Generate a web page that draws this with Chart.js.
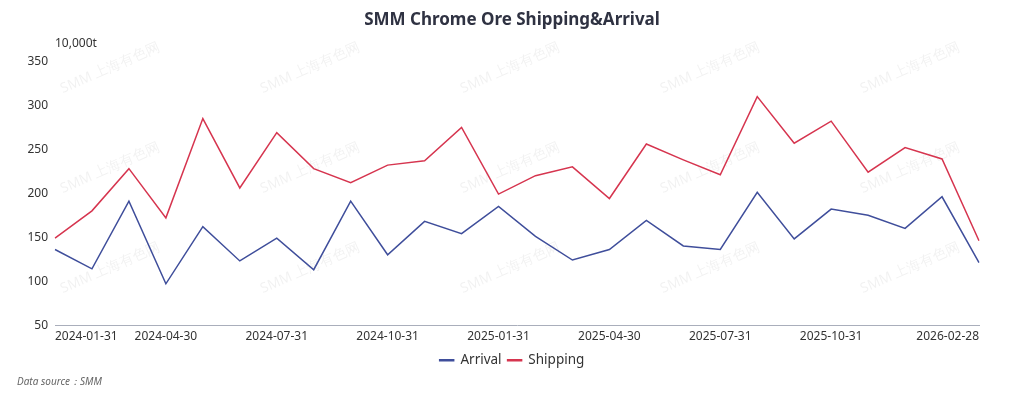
<!DOCTYPE html>
<html>
<head>
<meta charset="utf-8">
<script src="https://cdn.jsdelivr.net/npm/chart.js@4"></script>
<style>
  html, body { margin: 0; padding: 0; background: #fff; }
  #wrap { width: 1024px; height: 399px; }
</style>
</head>
<body>
<div id="wrap"><canvas id="myChart" width="1024" height="399"></canvas></div>
<script>
// monthly data
var categories = ['2024-01-31','2024-02-29','2024-03-31','2024-04-30','2024-05-31','2024-06-30',
  '2024-07-31','2024-08-31','2024-09-30','2024-10-31','2024-11-30','2024-12-31',
  '2025-01-31','2025-02-28','2025-03-31','2025-04-30','2025-05-31','2025-06-30',
  '2025-07-31','2025-08-31','2025-09-30','2025-10-31','2025-11-30','2025-12-31',
  '2026-01-31','2026-02-28'];
var arrival = [136,114,191,97,162,123,149,113,191,130,168,154,185,151,124,136,169,140,136,201,148,182,175,160,196,121];
var shipping = [149,180,228,172,285,206,269,228,212,232,237,275,199,220,230,194,256,238,221,310,257,282,224,252,239,146];
var tickLabels = ['2024-01-31','2024-04-30','2024-07-31','2024-10-31','2025-01-31','2025-04-30','2025-07-31','2025-10-31','2026-02-28'];
var yTicks = [50,100,150,200,250,300,350];

var FONT = "'Noto Sans', 'Open Sans', sans-serif";

// faint watermark + unit label + source note
var extras = {
  id: 'extras',
  afterLayout: function(chart) {
    // centre title and legend on the page, not on the padded box
    chart.titleBlock.left = 45;
    chart.legend.left = 45;
  },
  beforeDraw: function(chart) {
    var ctx = chart.ctx;
    ctx.save();
    ctx.fillStyle = 'rgba(0,0,0,0.055)';
    ctx.font = "14px " + FONT;
    ctx.textAlign = 'center';
    ctx.textBaseline = 'middle';
    for (var x = 110; x < 1024; x += 200) {
      for (var y = 68; y < 300; y += 100) {
        ctx.save();
        ctx.translate(x, y);
        ctx.rotate(-24 * Math.PI / 180);
        ctx.fillText('SMM 上海有色网', 0, 0);
        ctx.restore();
      }
    }
    ctx.restore();
  },
  afterDraw: function(chart) {
    var ctx = chart.ctx;
    ctx.save();
    ctx.fillStyle = '#333';
    ctx.font = "12px " + FONT;
    ctx.textBaseline = 'middle';
    ctx.fillText('10,000t', chart.chartArea.left, 44);
    ctx.fillStyle = '#666';
    ctx.font = "italic 10px " + FONT;
    ctx.fillText('Data source：SMM', 17, 382);
    ctx.restore();
  }
};

var ctx = document.getElementById('myChart').getContext('2d');
var chart = new Chart(ctx, {
  type: 'line',
  data: {
    labels: categories,
    datasets: [{
      label: 'Arrival',
      data: arrival,
      borderColor: '#3f4e9b',
      backgroundColor: '#3f4e9b',
      borderWidth: 1.5,
      pointRadius: 0,
      tension: 0
    }, {
      label: 'Shipping',
      data: shipping,
      borderColor: '#d6354f',
      backgroundColor: '#d6354f',
      borderWidth: 1.5,
      pointRadius: 0,
      tension: 0
    }]
  },
  options: {
    responsive: false,
    animation: false,
    layout: { padding: { left: 0, right: 45, top: 0, bottom: 22 } },
    plugins: {
      title: {
        display: true,
        text: 'SMM Chrome Ore Shipping&Arrival',
        color: '#2f3242',
        font: { family: FONT, size: 17, weight: 'bold' },
        padding: { top: 10, bottom: 31 }
      },
      legend: {
        position: 'bottom',
        labels: {
          color: '#333',
          font: { family: FONT, size: 13.5 },
          boxWidth: 14,
          boxHeight: 1,
          padding: 6
        }
      },
      tooltip: { enabled: false }
    },
    scales: {
      x: {
        grid: { display: false, drawTicks: false },
        border: { display: true, color: '#a9aebb', width: 1 },
        ticks: {
          autoSkip: false,
          maxRotation: 0,
          align: 'inner',
          color: '#333',
          font: { family: FONT, size: 12 },
          padding: 4,
          callback: function(v, i) {
            var l = categories[i];
            return tickLabels.indexOf(l) >= 0 ? l : null;
          }
        }
      },
      y: {
        min: yTicks[0],
        max: yTicks[yTicks.length - 1],
        afterFit: function(scale) { scale.width = 55; },
        afterBuildTicks: function(scale) {
          scale.ticks = yTicks.map(function(v) { return { value: v }; });
        },
        grid: { display: false, drawTicks: false },
        border: { display: false },
        ticks: {
          color: '#333',
          font: { family: FONT, size: 12 },
          padding: 7
        }
      }
    }
  },
  plugins: [extras]
});
</script>
</body>
</html>
